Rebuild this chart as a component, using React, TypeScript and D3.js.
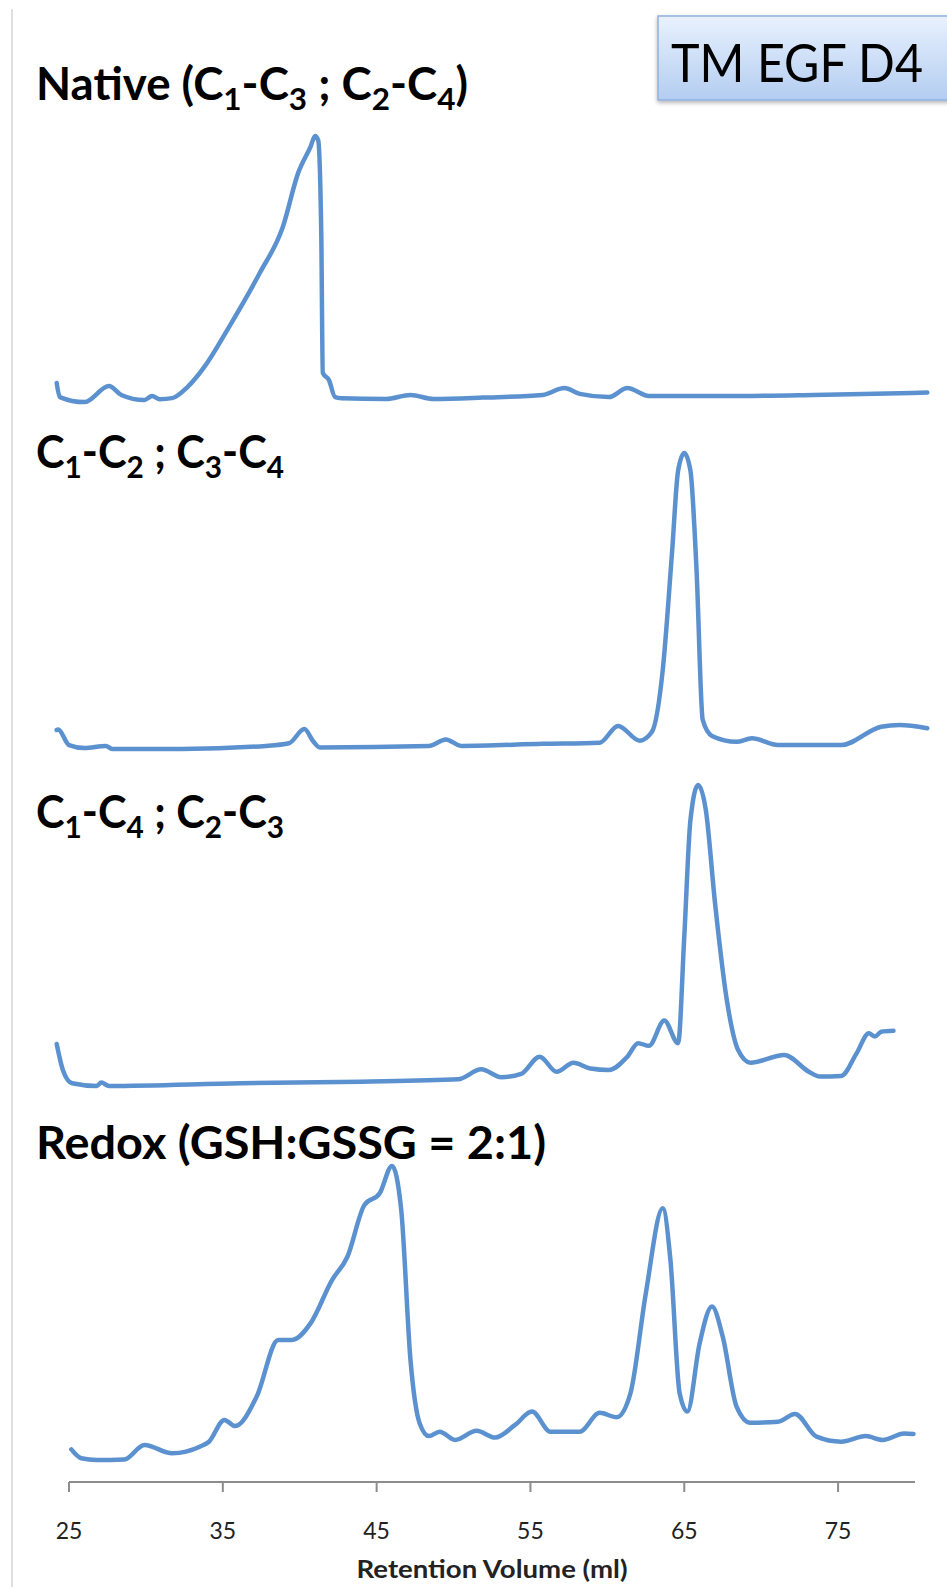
import React from 'react';
import * as d3 from 'd3';

// retention volume (ml), relative absorbance (0 = baseline, 100 = main peak)
const nativeTrace: [number, number][] = [
  [24.2, 6.4], [24.4, 1.1], [26.0, -0.8], [27.6, 5.3], [28.4, 1.9], [29.9, 0], [30.4, 1.5],
  [30.9, 0.3], [31.7, 0.7], [32.7, 4.9], [33.8, 12.5], [35.4, 27.5], [37.4, 47.9], [38.9, 65.3],
  [39.9, 85.7], [40.7, 95.5], [41.0, 99.6], [41.2, 98], [41.4, 63], [41.5, 10.2], [41.9, 7.5],
  [42.3, 1.1], [42.7, 0.7], [45.6, 0.4], [47.2, 1.9], [48.7, 0.4], [51.9, 0.9], [55.8, 1.9],
  [57.2, 4.5], [58.2, 2.3], [60.1, 1.1], [61.3, 4.5], [62.7, 1.5], [67.6, 1.5], [73.4, 1.9],
  [80.8, 2.8],
];

const c12c34Trace: [number, number][] = [
  [24.2, 6.1], [24.3, 6.3], [25.0, 1.0], [26.0, 0], [27.4, 0.7], [27.8, -0.3], [32.3, -0.3],
  [37.8, 0.7], [39.3, 1.6], [40.3, 6.4], [40.9, 2.1], [41.3, 0.2], [48.4, 0.7], [49.5, 2.9],
  [50.5, 0.7], [55.8, 1.4], [59.5, 1.8], [60.7, 7.5], [62.1, 2.5], [62.9, 5.5], [63.6, 26.4],
  [64.2, 66], [64.6, 94], [65.0, 100], [65.4, 94], [65.8, 60], [66.2, 9.5], [66.8, 4.1],
  [68.4, 2.1], [69.4, 3.3], [71.1, 1.0], [75.2, 1.0], [77.8, 7.2], [79.0, 7.8], [80.8, 6.7],
];

const c14c23Trace: [number, number][] = [
  [24.2, 13.6], [24.6, 5], [25.2, 0.6], [26.8, -0.3], [27.1, 0.8], [27.6, -0.3], [36.2, 0.6],
  [44.0, 1.1], [50.3, 1.9], [51.8, 5.2], [53.1, 2.6], [54.4, 3.7], [55.6, 9.4], [56.7, 4.4],
  [57.8, 7.4], [58.9, 5.5], [60.1, 5.0], [61.3, 9.4], [62.0, 13.9], [62.7, 13], [63.7, 21.4],
  [64.6, 13.9], [65.0, 49.3], [65.4, 88], [65.9, 99.7], [66.4, 91.4], [67.0, 60.4], [67.8, 27.1],
  [68.5, 11.6], [69.3, 7.4], [71.5, 10], [73.1, 4.4], [73.8, 2.8], [75.2, 3.0], [76.2, 10.5],
  [77.0, 17.2], [77.4, 16.1], [77.8, 17.7], [78.6, 18],
];

const redoxTrace: [number, number][] = [
  [25.15, 3.6], [25.8, 0.6], [26.8, 0], [28.6, 0.2], [29.9, 5.1], [31.7, 2.3], [33.5, 4.5],
  [34.1, 6.2], [35.1, 13.6], [35.8, 11.5], [37.2, 21.5], [38.6, 40.7], [39.5, 40.7], [40.7, 46.3],
  [42.1, 61], [43.1, 68.9], [44.2, 86.4], [45.2, 90.4], [46.0, 99.7], [46.6, 84.7], [47.2, 33.9],
  [47.8, 12.4], [48.4, 8.1], [49.1, 9.6], [50.1, 6.8], [51.5, 9.9], [52.7, 7.6], [54.0, 11.9],
  [55.1, 16.4], [56.3, 9.6], [58.2, 9.6], [59.5, 16.0], [60.6, 14.5], [61.5, 22.6], [62.5, 56.5],
  [63.6, 85.3], [64.1, 67.8], [64.7, 22.6], [65.2, 16.4], [66.0, 39.6], [66.8, 52], [67.5, 41.8],
  [68.4, 18.1], [69.3, 12.6], [71.1, 13], [72.2, 15.6], [73.6, 7.9], [75.2, 6.2], [76.8, 8.1],
  [77.9, 6.8], [79.3, 9.0], [79.9, 8.8],
];

const xTicks = [25, 35, 45, 55, 65, 75];

const W = 947;
const H = 1587;
const lineColor = '#5c91cf';
const font = 'Lato, "Open Sans", sans-serif';

const x = d3.scaleLinear().domain([25, 80]).range([69, 915]);

// each panel gets its own vertical band
const panels = [
  { data: nativeTrace, y0: 400, y1: 135 },
  { data: c12c34Trace, y0: 748, y1: 453 },
  { data: c14c23Trace, y0: 1085, y1: 784 },
  { data: redoxTrace, y0: 1460, y1: 1165 },
];

const SUB_SHIFT = 10;

const Label = ({ y, parts, width }: { y: number; parts: (string | [string])[]; width: number }) => (
  <text x={36} y={y} fontFamily={font} fontWeight={700} fontSize={45} fill="#000"
    textLength={width} lengthAdjust="spacingAndGlyphs">
    {parts.map((p, i) => {
      if (typeof p === 'string') {
        const back = i > 0 && typeof parts[i - 1] !== 'string' ? -SUB_SHIFT : 0;
        return <tspan key={i} dy={back}>{p}</tspan>;
      }
      return <tspan key={i} fontSize={31} dy={SUB_SHIFT}>{p[0]}</tspan>;
    })}
  </text>
);

export default function App() {
  const axisY = 1482;
  return (
    <svg width={W} height={H} style={{ position: 'absolute', left: 0, top: 0, background: '#fff' }}>
      <defs>
        <linearGradient id="boxGrad" x1="0" y1="0" x2="0" y2="1">
          <stop offset="0%" stopColor="#e9f1fd" />
          <stop offset="100%" stopColor="#b3cdf1" />
        </linearGradient>
        <filter id="shadow" x="-10%" y="-10%" width="130%" height="140%">
          <feDropShadow dx="0" dy="2" stdDeviation="2" floodColor="#000" floodOpacity="0.3" />
        </filter>
      </defs>

      <line x1={12} x2={12} y1={9} y2={H} stroke="#d4d4d4" strokeWidth={1.5} />

      {/* title box, runs off the right edge like the original */}
      <rect x={658} y={16} width={300} height={84} fill="url(#boxGrad)" stroke="#8fb1e0" strokeWidth={1.5} filter="url(#shadow)" />
      <text x={671} y={82} fontFamily={font} fontSize={53} fill="#000" textLength={252} lengthAdjust="spacingAndGlyphs">TM EGF D4</text>

      <Label y={100} width={432} parts={['Native (C', ['1'], '-C', ['3'], ' ; C', ['2'], '-C', ['4'], ')']} />
      <Label y={468} width={248} parts={['C', ['1'], '-C', ['2'], ' ; C', ['3'], '-C', ['4']]} />
      <Label y={828} width={248} parts={['C', ['1'], '-C', ['4'], ' ; C', ['2'], '-C', ['3']]} />
      <text x={36} y={1159} fontFamily={font} fontWeight={700} fontSize={45} fill="#000"
        textLength={510} lengthAdjust="spacingAndGlyphs">Redox (GSH:GSSG = 2:1)</text>

      {panels.map((p, i) => {
        const y = d3.scaleLinear().domain([0, 100]).range([p.y0, p.y1]);
        const line = d3.line<[number, number]>()
          .x(d => x(d[0]))
          .y(d => y(d[1]))
          .curve(d3.curveMonotoneX);
        return (
          <path key={i} d={line(p.data) || ''} fill="none" stroke={lineColor} strokeWidth={4.5}
            strokeLinejoin="round" strokeLinecap="round" />
        );
      })}

      {/* x axis */}
      <line x1={x(25)} x2={x(80)} y1={axisY} y2={axisY} stroke="#8c8c8c" strokeWidth={2} />
      {xTicks.map(t => (
        <g key={t}>
          <line x1={x(t)} x2={x(t)} y1={axisY} y2={axisY + 10} stroke="#8c8c8c" strokeWidth={2} />
          <text x={x(t)} y={1539} textAnchor="middle" fontFamily={font} fontSize={23} fill="#222">{t}</text>
        </g>
      ))}
      <text x={x(52.5)} y={1578} textAnchor="middle" fontFamily={font} fontWeight={700} fontSize={24} fill="#222"
        textLength={271} lengthAdjust="spacingAndGlyphs">Retention Volume (ml)</text>
    </svg>
  );
}
